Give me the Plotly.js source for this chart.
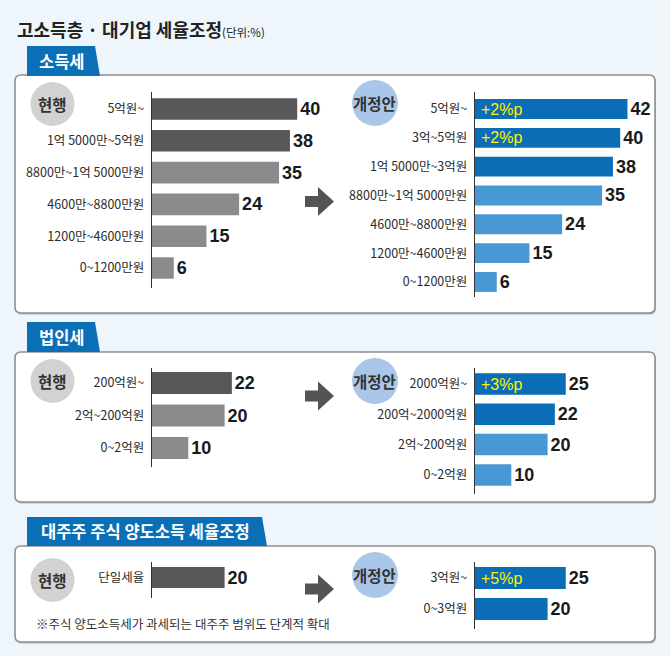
<!DOCTYPE html>
<html>
<head>
<meta charset="utf-8">
<script src="https://cdn.plot.ly/plotly-3.0.1.min.js"></script>
<style>html,body{margin:0;padding:0;background:#eef6fc;}#chart{width:670px;height:656px;}</style>
</head>
<body>
<div id="chart"></div>
<script>
// ---------------- DATA ----------------
const incomeCurCats = ['5억원~','1억 5000만~5억원','8800만~1억 5000만원','4600만~8800만원','1200만~4600만원','0~1200만원'];
const incomeCurVals = [40,38,35,24,15,6];
const incomeNewCats = ['5억원~','3억~5억원','1억 5000만~3억원','8800만~1억 5000만원','4600만~8800만원','1200만~4600만원','0~1200만원'];
const incomeNewVals = [42,40,38,35,24,15,6];
const incomeNewChange = ['+2%p','+2%p','','','','',''];

const corpCurCats = ['200억원~','2억~200억원','0~2억원'];
const corpCurVals = [22,20,10];
const corpNewCats = ['2000억원~','200억~2000억원','2억~200억원','0~2억원'];
const corpNewVals = [25,22,20,10];
const corpNewChange = ['+3%p','','',''];

const stockCurCats = ['단일세율'];
const stockCurVals = [20];
const stockNewCats = ['3억원~','0~3억원'];
const stockNewVals = [25,20];
const stockNewChange = ['+5%p',''];

const titleText = '고소득층 · 대기업 세율조정';
const unitText = '(단위:%)';
const sectionTitles = ['소득세','법인세','대주주 주식 양도소득 세율조정'];
const footnote = '※주식 양도소득세가 과세되는 대주주 범위도 단계적 확대';

// ---------------- LAYOUT HELPERS ----------------
const W = 670, H = 656;
const X = px => px / W;
const Y = py => 1 - py / H;
const PPU = 3.63, R = 50;
const NUMFONT = 'Liberation Sans Narrow, Liberation Sans, Arial, sans-serif';
const KFONT = 'Noto Sans CJK KR, sans-serif';

const DG = '#58585a', MG = '#8a8b8d', DB = '#0a6db5', LB = '#4898d3';

const layout = {
  width: W, height: H, margin: {l:0, r:0, t:0, b:0},
  paper_bgcolor: '#eef6fc', plot_bgcolor: 'rgba(0,0,0,0)',
  showlegend: false, hovermode: false,
  shapes: [], annotations: []
};
const data = [];

function addChart(idx, cats, vals, colors, axisX, c0, sp, padT, padB, bw, change) {
  const n = cats.length;
  const top = c0 - padT * sp, bot = c0 + (n - 1 + padB) * sp;
  const xk = idx === 1 ? 'xaxis' : 'xaxis' + idx;
  const yk = idx === 1 ? 'yaxis' : 'yaxis' + idx;
  const xr = idx === 1 ? 'x' : 'x' + idx;
  const yr = idx === 1 ? 'y' : 'y' + idx;
  layout[xk] = {domain: [X(axisX), X(axisX + R * PPU)], range: [0, R], visible: false,
    fixedrange: true, anchor: yr};
  layout[yk] = {domain: [Y(bot), Y(top)], range: [n - 1 + padB, -padT], autorange: false,
    type: 'category', showline: true, linecolor: '#333', linewidth: 1.2, ticks: '',
    showgrid: false, zeroline: false, fixedrange: true, anchor: xr, ticklabelstandoff: 4,
    tickfont: {family: KFONT, size: 12.5, color: '#2b2b2b'}};
  data.push({type: 'bar', orientation: 'h', x: vals, y: cats, xaxis: xr, yaxis: yr,
    marker: {color: colors}, width: bw, text: vals.map(String), textposition: 'outside',
    textangle: 0, constraintext: 'none', cliponaxis: false, hoverinfo: 'skip',
    textfont: {family: NUMFONT, size: 18, color: '#1a1a1a', weight: 700}});
  if (change) {
    change.forEach((c, i) => {
      if (!c) return;
      layout.annotations.push({xref: xr, yref: yr, x: 0, y: cats[i], text: c, showarrow: false,
        xanchor: 'left', xshift: 4, yanchor: 'middle',
        font: {family: NUMFONT, size: 16, color: '#fff200'}});
    });
  }
}

addChart(1, incomeCurCats, incomeCurVals, [DG,DG,MG,MG,MG,MG], 152, 109, 31.8, 0.55, 0.62, 0.68);
addChart(2, incomeNewCats, incomeNewVals, [DB,DB,DB,LB,LB,LB,LB], 475, 109, 28.83, 0.59, 0.52, 0.69, incomeNewChange);
addChart(3, corpCurCats, corpCurVals, [DG,MG,MG], 152, 383, 32.5, 0.46, 0.58, 0.68);
addChart(4, corpNewCats, corpNewVals, [DB,DB,LB,LB], 475, 384, 30.3, 0.53, 0.63, 0.71, corpNewChange);
addChart(5, stockCurCats, stockCurVals, [DG], 152, 577.5, 31, 0.5, 0.66, 0.68);
addChart(6, stockNewCats, stockNewVals, [DB,DB], 475, 578, 31, 0.52, 0.65, 0.71, stockNewChange);

// ---------------- DECORATION ----------------
function rrect(x0, y0, x1, y1, r) {
  const p = (x, y) => X(x) + ',' + Y(y);
  return 'M' + p(x0 + r, y0) + ' L' + p(x1 - r, y0) + ' Q' + p(x1, y0) + ' ' + p(x1, y0 + r) +
    ' L' + p(x1, y1 - r) + ' Q' + p(x1, y1) + ' ' + p(x1 - r, y1) +
    ' L' + p(x0 + r, y1) + ' Q' + p(x0, y1) + ' ' + p(x0, y1 - r) +
    ' L' + p(x0, y0 + r) + ' Q' + p(x0, y0) + ' ' + p(x0 + r, y0) + ' Z';
}
function poly(pts) {
  return 'M' + pts.map(q => X(q[0]) + ',' + Y(q[1])).join(' L') + ' Z';
}
const panels = [[15, 75, 655, 313], [15, 352, 655, 502], [15, 546, 655, 642]];
panels.forEach(pn => {
  layout.shapes.push({type: 'path', xref: 'paper', yref: 'paper', layer: 'below',
    path: rrect(pn[0] + 1, pn[1] + 1.5, pn[2] + 1, pn[3] + 1.5, 6), fillcolor: '#b5b8bb', line: {width: 0}});
  layout.shapes.push({type: 'path', xref: 'paper', yref: 'paper', layer: 'below',
    path: rrect(pn[0], pn[1], pn[2], pn[3], 6), fillcolor: '#ffffff', line: {color: '#8e8f91', width: 1.6}});
});
const tabs = [[27, 46, 95, 100, 75, 62, 61], [27, 322, 95, 100, 351, 62, 337], [27, 517, 262, 267, 545, 145, 531]];
tabs.forEach((t, i) => {
  layout.shapes.push({type: 'path', xref: 'paper', yref: 'paper', layer: 'below',
    path: poly([[t[0], t[1]], [t[2], t[1]], [t[3], t[4] + 1], [t[0], t[4] + 1]]),
    fillcolor: '#0a6fb7', line: {width: 0}});
  layout.annotations.push({xref: 'paper', yref: 'paper', x: X(t[5]), y: Y(t[6]), text: sectionTitles[i],
    showarrow: false, xanchor: 'center', yanchor: 'middle',
    font: {family: KFONT, size: 16.5, color: '#ffffff', weight: 700}});
});
// circles
const circles = [[52.5, 104, 22, '#d2d2d3', '현행'], [375, 103, 23, '#aac7e9', '개정안'],
  [52.5, 381, 22, '#d2d2d3', '현행'], [375, 381, 23, '#aac7e9', '개정안'],
  [52.5, 580, 22, '#d2d2d3', '현행'], [375, 575, 23, '#aac7e9', '개정안']];
circles.forEach(c => {
  layout.shapes.push({type: 'circle', xref: 'paper', yref: 'paper', layer: 'below',
    x0: X(c[0] - c[2]), x1: X(c[0] + c[2]), y0: Y(c[1] + c[2]), y1: Y(c[1] - c[2]),
    fillcolor: c[3], line: {width: 0}});
  layout.annotations.push({xref: 'paper', yref: 'paper', x: X(c[0]), y: Y(c[1]), text: c[4],
    showarrow: false, xanchor: 'center', yanchor: 'middle',
    font: {family: KFONT, size: 15.5, color: '#333333', weight: 700}});
});
// arrows
[201.5, 396, 589].forEach(cy => {
  layout.shapes.push({type: 'path', xref: 'paper', yref: 'paper', layer: 'below',
    path: poly([[305, cy - 5.5], [318, cy - 5.5], [318, cy - 14.5], [334, cy], [318, cy + 14.5], [318, cy + 5.5], [305, cy + 5.5]]),
    fillcolor: '#545456', line: {width: 0}});
});
// title
layout.annotations.push({xref: 'paper', yref: 'paper', x: X(15), y: Y(29), xanchor: 'left', yanchor: 'middle',
  showarrow: false, text: '<b>' + titleText + '</b><span style="font-size:11.5px">' + unitText + '</span>',
  font: {family: KFONT, size: 18, color: '#222222'}});
// footnote
layout.annotations.push({xref: 'paper', yref: 'paper', x: X(34), y: Y(623), xanchor: 'left', yanchor: 'middle',
  showarrow: false, text: footnote, font: {family: KFONT, size: 12.5, color: '#333333'}});

Plotly.newPlot('chart', data, layout, {displayModeBar: false, staticPlot: true});
</script>
</body>
</html>
